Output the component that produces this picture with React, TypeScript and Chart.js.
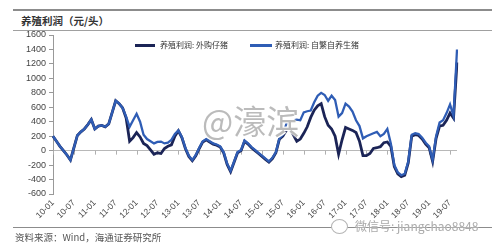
import React, { useEffect, useRef } from "react";
import { Chart, registerables } from "chart.js";

Chart.register(...registerables);

// ---- data ----
const years: string[] = ["10", "11", "12", "13", "14", "15", "16", "17", "18", "19"];
const monthNames: string[] = ["01", "02", "03", "04", "05", "06", "07", "08", "09", "10", "11", "12"];
const lastLabel = "19-09";

const tickLabels: string[] = [
  "10-01", "10-07", "11-01", "11-07", "12-01", "12-07", "13-01", "13-07", "14-01", "14-07",
  "15-01", "15-07", "16-01", "16-07", "17-01", "17-07", "18-01", "18-07", "19-01", "19-07",
];

const yTicks: number[] = [-600, -400, -200, 0, 200, 400, 600, 800, 1000, 1200, 1400, 1600];

// 养殖利润：自繁自养生猪 (monthly, 10-01 .. 19-09)
const selfBred: number[] = [
  200, 130, 60, 0, -60, -130, 40, 210, 260, 300, 360, 430,
  300, 340, 350, 330, 370, 530, 690, 650, 590, 470, 330, 420,
  510, 400, 220, 160, 130, 100, 120, 125, 100, 110, 150, 230,
  280, 190, 40, -70, -130, -60, 40, 130, 160, 130, 100, 85,
  60, -20, -180, -280, -150, -20, 10, 140, 100, 50, 10, -30,
  -70, -110, -150, -100, -20, 170, 220, 370, 400, 420, 430, 420,
  530, 545, 555, 670, 760, 800, 770, 690, 760, 700, 470, 520,
  650, 610, 540, 420, 340, 170, 200, 220, 240, 260, 200, 230,
  300, 100, -200, -300, -340, -320, -150, 220, 240, 230, 180, 110,
  60, -130, 200, 390, 420, 520, 640, 480, 1400,
];

// 养殖利润：外购仔猪 (monthly, 10-01 .. 19-09)
const purchased: number[] = [
  200, 130, 60, 0, -60, -130, 40, 210, 260, 300, 360, 430,
  300, 340, 350, 330, 370, 530, 690, 650, 590, 450, 130, 180,
  250, 190, 100, 70, 10, -50, -30, -40, 30, 60, 80, 200,
  275, 180, 30, -80, -140, -70, 30, 120, 150, 120, 90, 75,
  50, -30, -190, -290, -160, -30, 0, 130, 90, 40, 0, -40,
  -80, -120, -160, -110, -30, 160, 200, 280, 310, 220, 130, 160,
  240, 330, 460, 560, 620, 650, 470, 350, 300, 200, -50, 150,
  320, 300, 280, 250, 130, -70, -70, -40, 30, 40, 55, 110,
  120, 60, -220, -320, -360, -340, -170, 200, 220, 210, 160, 90,
  40, -150, 170, 340, 350, 420, 520, 450, 1220,
];

const seriesNames: string[] = ["养殖利润: 外购仔猪", "养殖利润: 自繁自养生猪"];
const DARK = "#1b2456";
const BLUE = "#2f5db5";

const labels: string[] = [];
for (const y of years) {
  for (const m of monthNames) {
    const l = `${y}-${m}`;
    labels.push(l);
    if (l === lastLabel) break;
  }
}

const zeroTicksPlugin = {
  id: "zeroTicks",
  beforeDatasetsDraw(chart: any) {
    const xs = chart.scales.x;
    const ys = chart.scales.y;
    const y0 = ys.getPixelForValue(0);
    const ctx = chart.ctx;
    ctx.save();
    ctx.strokeStyle = "#b0b0b0";
    ctx.lineWidth = 1;
    labels.forEach((l, i) => {
      if (tickLabels.includes(l)) {
        const x = Math.round(xs.getPixelForValue(i)) + 0.5;
        ctx.beginPath();
        ctx.moveTo(x, y0);
        ctx.lineTo(x, y0 + 4);
        ctx.stroke();
      }
    });
    ctx.restore();
  },
};

export default function App() {
  const ref = useRef<HTMLCanvasElement>(null);

  useEffect(() => {
    if (!ref.current) return;
    const chart = new Chart(ref.current, {
      type: "line",
      data: {
        labels,
        datasets: [
          {
            label: seriesNames[0],
            data: purchased,
            borderColor: DARK,
            backgroundColor: DARK,
            borderWidth: 2.8,
            pointRadius: 0,
            tension: 0,
            order: 1,
          },
          {
            label: seriesNames[1],
            data: selfBred,
            borderColor: BLUE,
            backgroundColor: BLUE,
            borderWidth: 2.3,
            pointRadius: 0,
            tension: 0,
            order: 0,
          },
        ],
      },
      options: {
        animation: false,
        responsive: false,
        maintainAspectRatio: false,
        layout: { padding: { left: 0, right: 43, top: 35, bottom: 0 } },
        plugins: { legend: { display: false }, tooltip: { enabled: false } },
        scales: {
          x: {
            type: "category",
            offset: false,
            grid: { display: false, drawTicks: false },
            border: { display: false },
            ticks: {
              autoSkip: false,
              maxRotation: 45,
              minRotation: 45,
              padding: 4,
              color: "#444",
              font: { size: 8.5, family: "'Liberation Sans', Arial, sans-serif" },
              callback: (_v: any, i: number) => (tickLabels.includes(labels[i]) ? labels[i] : null),
            },
            afterFit: (s: any) => {
              s.height = 56;
            },
          },
          y: {
            min: yTicks[0],
            max: yTicks[yTicks.length - 1],
            afterBuildTicks: (s: any) => {
              s.ticks = yTicks.map((v) => ({ value: v }));
            },
            ticks: {
              padding: 3,
              color: "#444",
              font: { size: 9, family: "'Liberation Sans', Arial, sans-serif" },
              callback: (v: any) => String(v),
            },
            grid: {
              color: (c: any) => (c.tick && c.tick.value === 0 ? "#b8b8b8" : "rgba(0,0,0,0)"),
              tickColor: "#999",
              tickLength: 4,
              lineWidth: 1,
            },
            border: { display: true, color: "#999" },
            afterFit: (s: any) => {
              s.width = 53;
            },
          },
        },
      },
      plugins: [zeroTicksPlugin],
    } as any);
    return () => chart.destroy();
  }, []);

  const cjk = "'Noto Sans CJK SC', 'Noto Sans', sans-serif";

  return (
    <div style={{ position: "absolute", left: 0, top: 0, width: 500, height: 250, background: "#fff", overflow: "hidden" }}>
      <div style={{ position: "absolute", left: 13, top: 9, width: 479, height: 2, background: "#8c8c8c" }} />
      <div style={{ position: "absolute", left: 21, top: 13, fontFamily: cjk, fontSize: 10.5, fontWeight: 700, color: "#333", lineHeight: "16px", whiteSpace: "nowrap" }}>
        养殖利润（元/头）
      </div>
      <div style={{ position: "absolute", left: 13, top: 30, width: 479, height: 1, background: "#a0a0a0" }} />
      <canvas ref={ref} width={500} height={250} style={{ position: "absolute", left: 0, top: 0, width: 500, height: 250 }} />
      {/* legend */}
      <div style={{ position: "absolute", left: 135, top: 44, width: 20, height: 2.5, background: DARK }} />
      <div style={{ position: "absolute", left: 160, top: 39, fontFamily: cjk, fontSize: 8, color: "#333", lineHeight: "12px", whiteSpace: "nowrap" }}>
        {seriesNames[0]}
      </div>
      <div style={{ position: "absolute", left: 250, top: 44, width: 22, height: 2.5, background: BLUE }} />
      <div style={{ position: "absolute", left: 275, top: 39, fontFamily: cjk, fontSize: 8, color: "#333", lineHeight: "12px", whiteSpace: "nowrap" }}>
        {seriesNames[1]}
      </div>
      {/* watermark */}
      <div
        style={{
          position: "absolute",
          left: 202,
          top: 102,
          fontFamily: cjk,
          fontSize: 33,
          lineHeight: "36px",
          color: "rgba(175,175,175,0.85)",
          textShadow: "0 0 2px #fff, 0 0 2px #fff, 1px 1px 0 #fff, -1px -1px 0 #fff",
          whiteSpace: "nowrap",
        }}
      >
        @濠滨
      </div>
      <div style={{ position: "absolute", left: 13, top: 227, width: 479, height: 1, background: "#8c8c8c" }} />
      <div style={{ position: "absolute", left: 15, top: 230, fontFamily: cjk, fontSize: 9.5, color: "#555", lineHeight: "14px", whiteSpace: "nowrap" }}>
        资料来源：Wind，海通证券研究所
      </div>
      <div style={{ position: "absolute", left: 331, top: 219, width: 15, height: 13, borderRadius: "50%", border: "1.5px solid #b5b5b5", background: "#fff" }} />
      <div
        style={{
          position: "absolute",
          left: 355,
          top: 217,
          fontFamily: cjk,
          fontSize: 12,
          color: "#aaa",
          lineHeight: "18px",
          whiteSpace: "nowrap",
          textShadow: "0 0 2px #fff",
        }}
      >
        微信号: jiangchao8848
      </div>
    </div>
  );
}
